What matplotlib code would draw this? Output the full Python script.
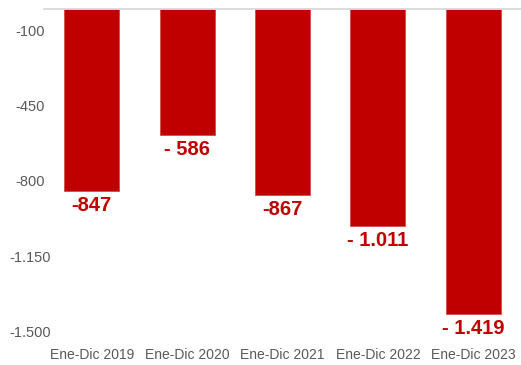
import matplotlib
matplotlib.use("Agg")
import matplotlib.pyplot as plt
from matplotlib import font_manager

# datos
categorias = ["Ene-Dic 2019", "Ene-Dic 2020", "Ene-Dic 2021", "Ene-Dic 2022", "Ene-Dic 2023"]
valores = [-847, -586, -867, -1011, -1419]
etiquetas = ["-847", "- 586", "-867", "- 1.011", "- 1.419"]
yticks = [-100, -450, -800, -1150, -1500]
ytick_labels = ["-100", "-450", "-800", "-1.150", "-1.500"]

ROJO = "#C00000"
GRIS = "#595959"

installed = {f.name for f in font_manager.fontManager.ttflist}
narrow = "Liberation Sans Narrow" if "Liberation Sans Narrow" in installed else "Liberation Sans"

fig = plt.figure(figsize=(5.21, 3.65), dpi=100)
ax = fig.add_axes([0.0845, 0.093, 0.9155, 0.881])

x = range(len(categorias))
ax.bar(x, valores, width=0.575, color=ROJO, edgecolor="#D24A4A", linewidth=0.6, zorder=2)

for xi, v, lab in zip(x, valores, etiquetas):
    ax.annotate(lab, (xi, v), xytext=(0, -3.5), textcoords="offset points",
                ha="center", va="top", color=ROJO, fontsize=14.5,
                fontweight="bold", family=narrow)

ax.set_xlim(-0.5, 4.5)
ax.set_ylim(-1500, 0)
ax.set_xticks(list(x))
ax.set_xticklabels(categorias, fontsize=10, color=GRIS, family="Liberation Sans")
ax.set_yticks(yticks)
ax.set_yticklabels(ytick_labels, fontsize=10.5, color=GRIS, family="Liberation Sans")
for t in ax.get_yticklabels():
    t.set_ha("center")
ax.tick_params(axis="y", length=0, pad=9.7)
ax.tick_params(axis="x", length=0, pad=12.5)

for s in ["left", "right", "bottom"]:
    ax.spines[s].set_visible(False)
ax.spines["top"].set_color("#D9D9D9")
ax.spines["top"].set_linewidth(1.3)

fig.savefig("out.png", dpi=100)
